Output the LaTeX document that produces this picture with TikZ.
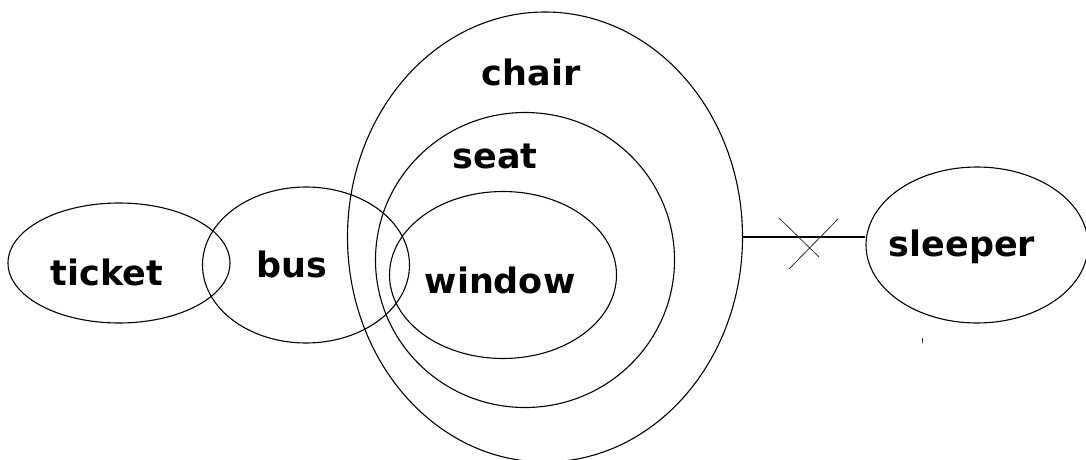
\documentclass[tikz,border=0pt]{standalone}
\usepackage{fontspec}
\setmainfont{DejaVu Sans}
\usetikzlibrary{shapes.geometric}
\begin{document}
\begin{tikzpicture}[x=1pt,y=-1pt,
  set/.style={draw,ellipse,line width=1.1pt,inner sep=0pt},
  lbl/.style={font=\bfseries\fontsize{35}{35}\selectfont,inner sep=0pt,anchor=base}]
\useasboundingbox[fill=white] (0,0) rectangle (1086,460);
\node[set,minimum width=222,minimum height=120] (ticket) at (119,263) {};
\node[set,minimum width=207,minimum height=156] (bus) at (306,265) {};
\node[set,minimum width=395,minimum height=450] (chair) at (545,237) {};
\node[set,minimum width=299,minimum height=295] (seat) at (525,260) {};
\node[set,minimum width=227,minimum height=167] (window) at (503,275) {};
\node[set,minimum width=222,minimum height=156] (sleeper) at (977,245) {};
\node[lbl] (tickettext) at (107,285) {ticket};
\node[lbl] (bustext) at (292,277) {bus};
\node[lbl] (chairtext) at (531,85) {chair};
\node[lbl] (seattext) at (495,168) {seat};
\node[lbl] (windowtext) at (500,293) {window};
\node[lbl] (sleepertext) at (962,256) {sleeper};
\draw[line width=1.1pt] (chair.east) -- (chair.east -| sleeper.west);
\coordinate (x1a) at (779,218);
\coordinate (x1b) at (819,257);
\coordinate (x2a) at (838,219);
\coordinate (x2b) at (789,269);
\draw[line width=0.8pt,black!80] (x1a) -- (x1b) (x2a) -- (x2b);
\coordinate (tka) at (922,338);
\coordinate (tkb) at (922,343);
\draw[line width=1pt,black!80] (tka) -- (tkb);
\end{tikzpicture}
\end{document}
